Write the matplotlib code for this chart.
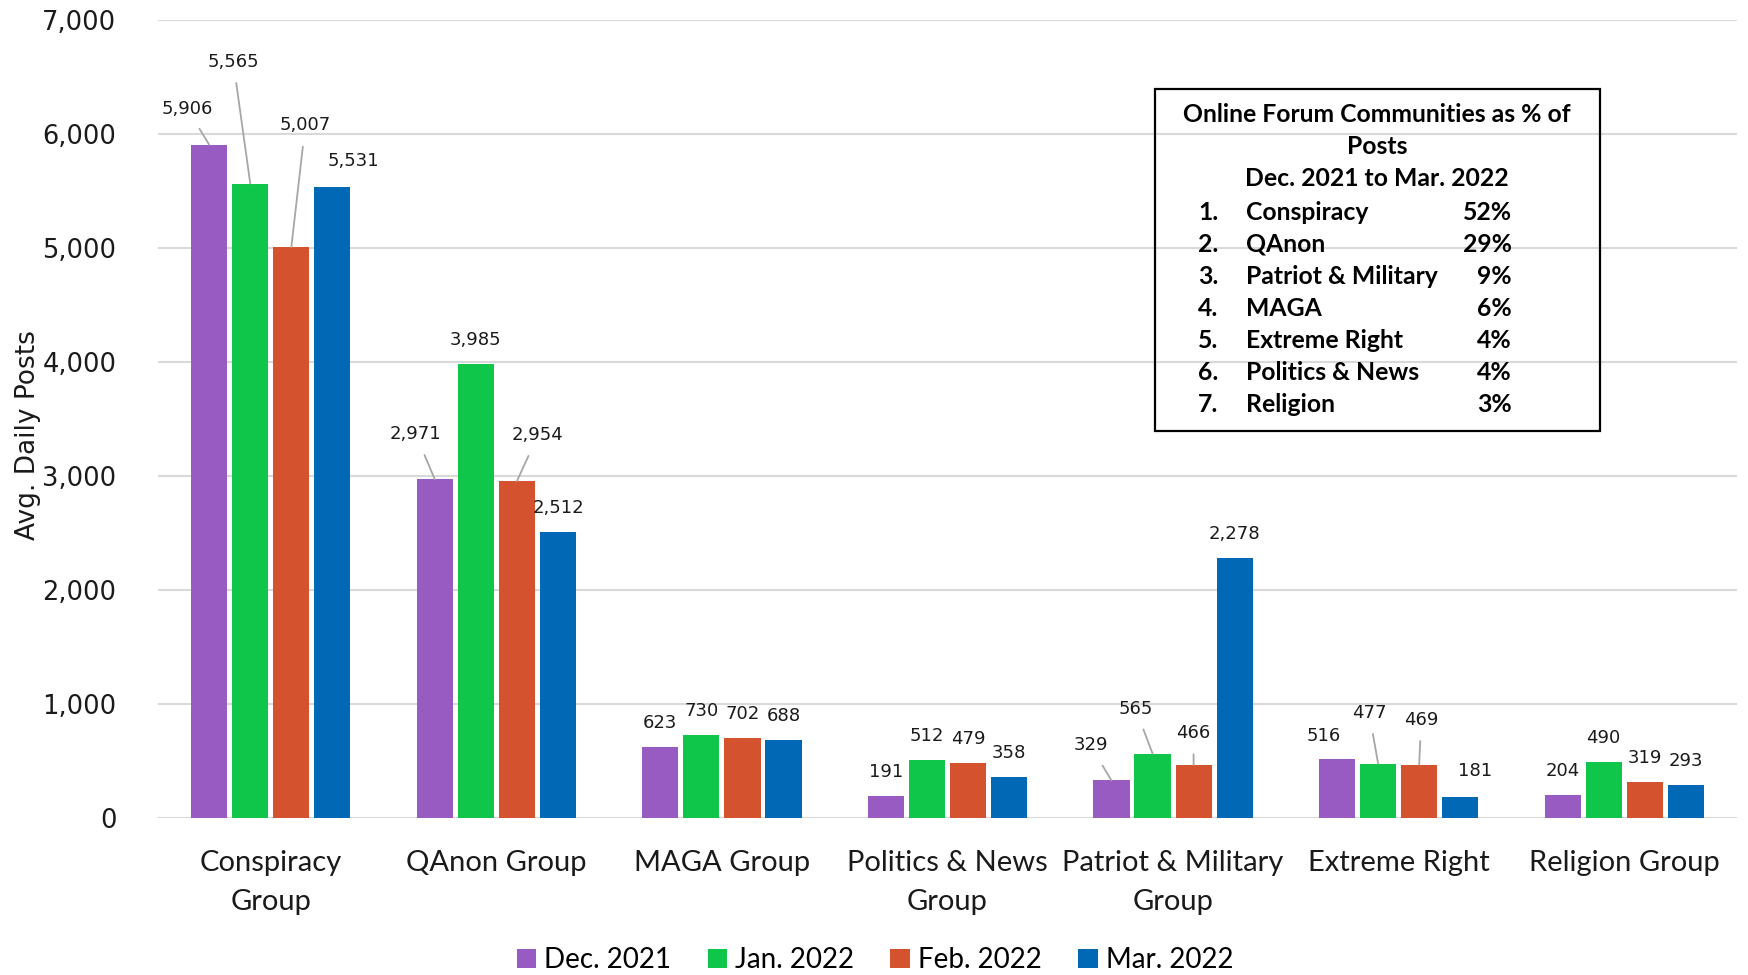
import numpy as np
import matplotlib
matplotlib.use("Agg")
import matplotlib.pyplot as plt
from matplotlib.patches import Rectangle

# Data
categories = ['Conspiracy\nGroup', 'QAnon Group', 'MAGA Group', 'Politics & News\nGroup',
              'Patriot & Military\nGroup', 'Extreme Right', 'Religion Group']
months = ['Dec. 2021', 'Jan. 2022', 'Feb. 2022', 'Mar. 2022']
dec_2021 = [5906, 2971, 623, 191, 329, 516, 204]
jan_2022 = [5565, 3985, 730, 512, 565, 477, 490]
feb_2022 = [5007, 2954, 702, 479, 466, 469, 319]
mar_2022 = [5531, 2512, 688, 358, 2278, 181, 293]

box_title = ['Online Forum Communities as % of', 'Posts', 'Dec. 2021 to Mar. 2022']
box_names = ['Conspiracy', 'QAnon', 'Patriot & Military', 'MAGA', 'Extreme Right',
             'Politics & News', 'Religion']
box_pcts = ['52%', '29%', '9%', '6%', '4%', '4%', '3%']

colors = ['#985BC1', '#0FC64A', '#D4522E', '#0068B5']

# label offsets in pixels (dx, dy, leader line) where the default position was moved
default_off = (0, 24, False)
moved = {
    (0, 0): (-22, 36, True), (0, 1): (-17, 122, True), (0, 2): (14, 122, True), (0, 3): (21, 26, False),
    (1, 0): (-19, 45, True), (1, 2): (21, 46, True),
    (4, 0): (-21, 35, True), (4, 1): (-17, 45, True), (4, 2): (0, 32, True),
    (5, 0): (-13, 23, False), (5, 1): (-9, 51, True), (5, 2): (2, 45, True), (5, 3): (15, 26, False),
}

W, H = 1748, 975
fig = plt.figure(figsize=(W / 100, H / 100), dpi=100)
ax = fig.add_axes([158 / W, 1 - 818 / H, (1737 - 158) / W, (818 - 20) / H])

series = [dec_2021, jan_2022, feb_2022, mar_2022]
x = np.arange(len(categories))
step = 0.182
width = 0.16
for i, (vals, col, name) in enumerate(zip(series, colors, months)):
    pos = x + (i - 1.5) * step
    ax.bar(pos, vals, width, color=col, label=name, zorder=3)
    for j, v in enumerate(vals):
        dx, dy, line = moved.get((j, i), default_off)
        kw = {}
        if line:
            kw['arrowprops'] = dict(arrowstyle='-', color='#a6a6a6', lw=1.3,
                                    shrinkA=7, shrinkB=0)
        ax.annotate(f'{v:,}', xy=(pos[j], v), xytext=(dx, dy), textcoords='offset pixels',
                    ha='center', va='center', fontsize=13, family='DejaVu Sans',
                    color='#1a1a1a', zorder=4, **kw)

ax.set_xlim(-0.5, len(categories) - 0.5)
ax.set_ylim(0, 7000)
ax.set_yticks(np.arange(0, 7001, 1000))
ax.set_yticklabels([f'{t:,}' for t in range(0, 7001, 1000)], fontsize=18.5,
                   family='DejaVu Sans', color='#1a1a1a')
ax.set_xticks(x)
ax.set_xticklabels(categories, fontsize=21, family='Lato', color='#1a1a1a', linespacing=1.6)
ax.tick_params(axis='both', length=0)
ax.tick_params(axis='x', pad=23)
ax.tick_params(axis='y', pad=30)
ax.grid(axis='y', color='#d9d9d9', lw=1.5, zorder=0)
for s in ax.spines.values():
    s.set_visible(False)

ax.set_ylabel('Avg. Daily Posts', fontsize=19, family=['Liberation Sans Narrow', 'DejaVu Sans'],
              color='#1a1a1a')
ax.yaxis.set_label_coords(-0.074, 0.48)

leg = fig.legend(loc='center', bbox_to_anchor=(875 / W, 1 - 960 / H), ncol=4, frameon=False,
                 prop={'family': 'Lato', 'size': 20}, handlelength=0.7, handleheight=0.7,
                 handletextpad=0.3, columnspacing=1.3)

# summary box
fig.patches.append(Rectangle((1155 / W, 1 - 431 / H), (1600 - 1155) / W, (431 - 89) / H,
                             transform=fig.transFigure, fill=False, ec='black', lw=1.6))
cx = 1377 / W
fs_box = 17.8
for k, t in enumerate(box_title):
    fig.text(cx, 1 - (115 + 32 * k) / H, t, ha='center', va='center', fontsize=fs_box,
             family='Lato', weight='bold')
for k, (nm, pc) in enumerate(zip(box_names, box_pcts)):
    yy = 1 - (212 + 32.1 * k) / H
    fig.text(1198 / W, yy, f'{k + 1}.', ha='left', va='center', fontsize=fs_box, family='Lato', weight='bold')
    fig.text(1246 / W, yy, nm, ha='left', va='center', fontsize=fs_box, family='Lato', weight='bold')
    fig.text(1512 / W, yy, pc, ha='right', va='center', fontsize=fs_box, family='Lato', weight='bold')

fig.savefig('out.png', dpi=100)
